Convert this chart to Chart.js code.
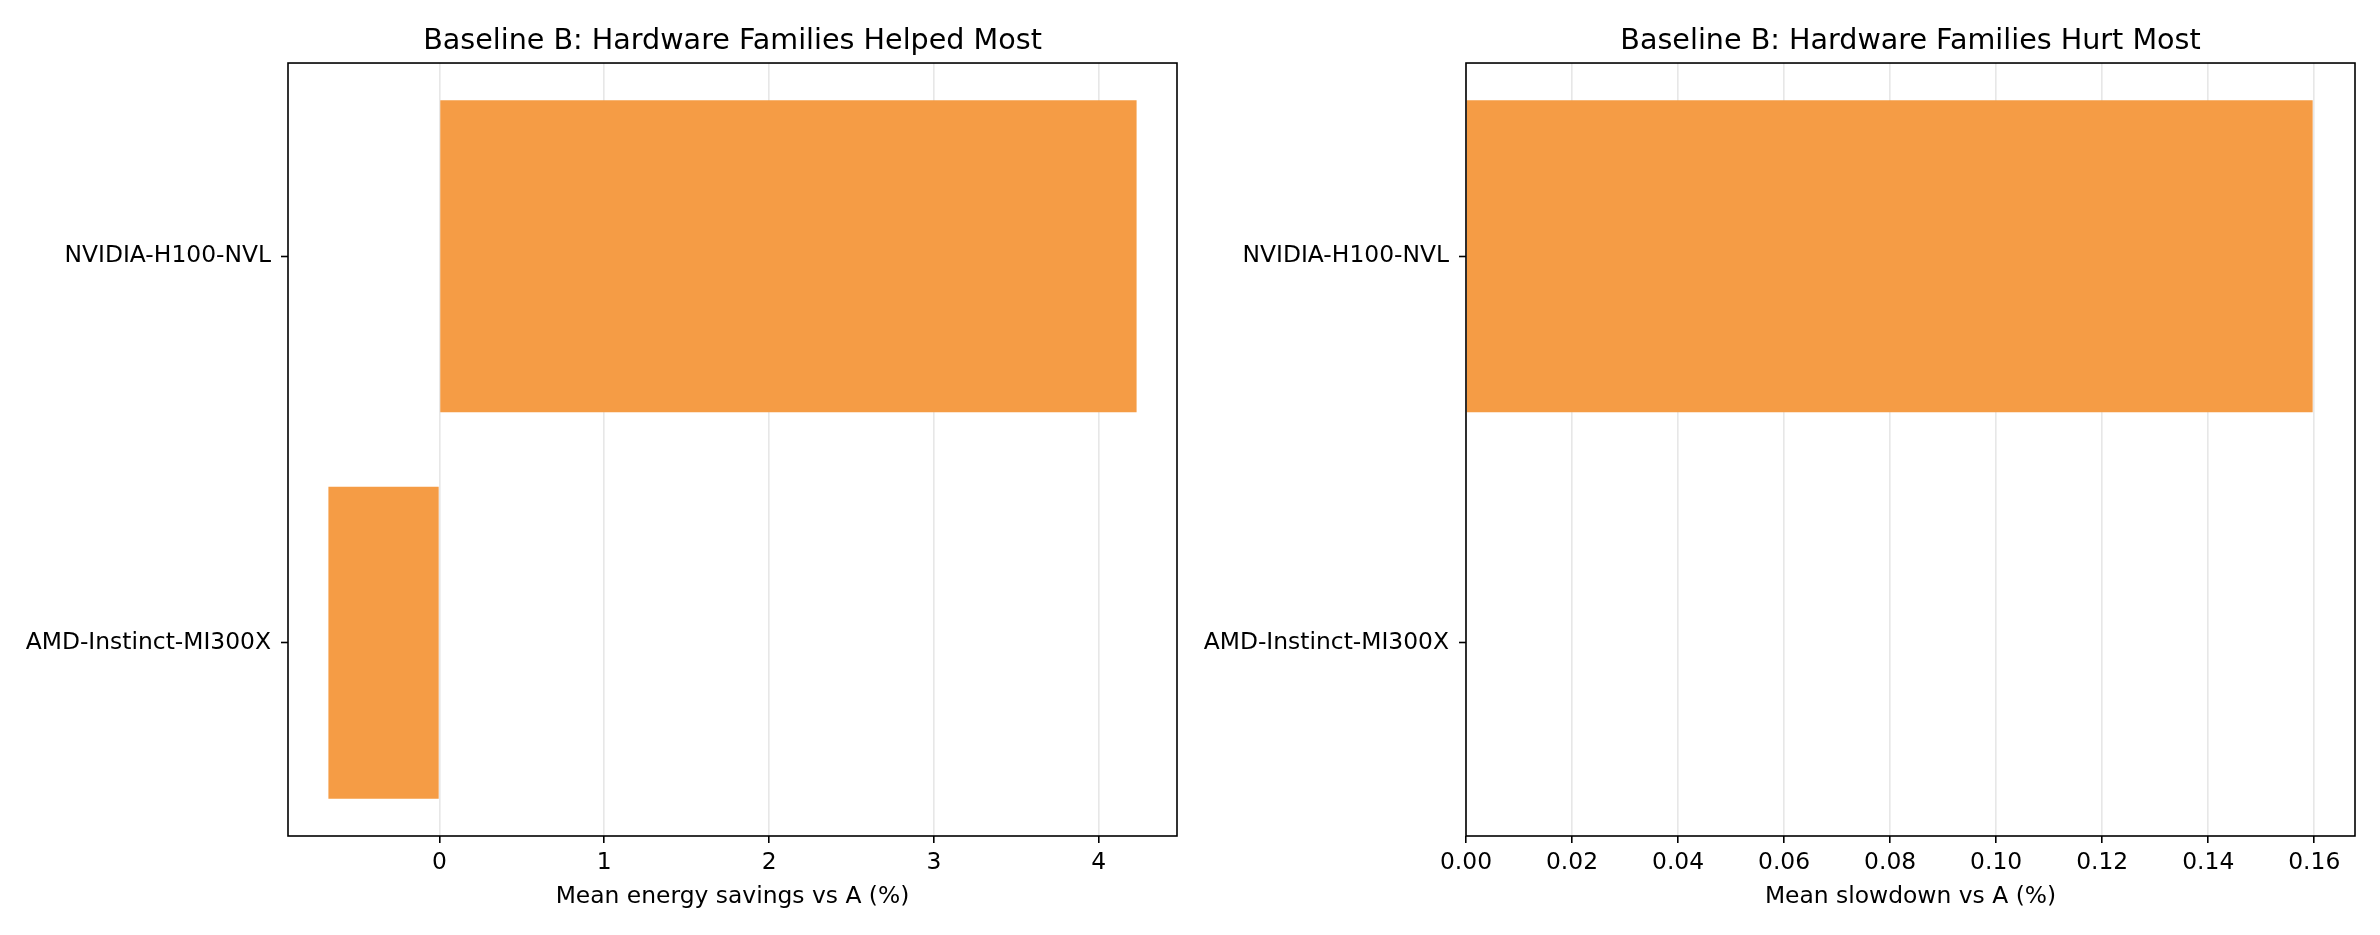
<!DOCTYPE html>
<html>
<head>
<meta charset="utf-8">
<script src="https://cdn.jsdelivr.net/npm/chart.js@4/dist/chart.umd.min.js"></script>
<style>
  html, body { margin: 0; padding: 0; background: #fff; }
  .panel { position: absolute; top: 0; width: 1190px; height: 935px; }
  #leftPanel { left: 0; }
  #rightPanel { left: 1190px; }
</style>
</head>
<body>
<div class="panel" id="leftPanel"><canvas id="helpedChart" width="1190" height="935"></canvas></div>
<div class="panel" id="rightPanel"><canvas id="hurtChart" width="1190" height="935"></canvas></div>
<script>
// data
const families = ["NVIDIA-H100-NVL", "AMD-Instinct-MI300X"];
const energySavings = [4.23, -0.674];
const slowdown = [0.1597, 0];
const savingsTicks = [0, 1, 2, 3, 4];
const slowdownTicks = [0, 0.02, 0.04, 0.06, 0.08, 0.10, 0.12, 0.14, 0.16];

const barColor = "#f59c45";
const tickFont = { family: "DejaVu Sans", size: 23.4 };

Chart.defaults.color = "#000";
Chart.defaults.font.family = "DejaVu Sans";

// matplotlib-like 5% margins, sticky at zero when data doesn't cross it
function axisLimits(values) {
  const lo = Math.min(0, ...values);
  const hi = Math.max(0, ...values);
  const pad = (hi - lo) * 0.05;
  return { min: lo < 0 ? lo - pad : 0, max: hi + pad };
}

// draw the full box around the plot area
const frameBox = {
  id: "frameBox",
  afterDraw(chart) {
    const { ctx, chartArea: a } = chart;
    ctx.save();
    ctx.strokeStyle = "#000";
    ctx.lineWidth = 1.6;
    ctx.strokeRect(a.left, a.top, a.right - a.left, a.bottom - a.top);
    ctx.restore();
  }
};

function makeChart(canvasId, title, xLabel, values, tickValues, fmt, yWidth, padRight) {
  const lim = axisLimits(values);
  return new Chart(document.getElementById(canvasId), {
    type: "bar",
    data: {
      labels: families,
      datasets: [{
        data: values,
        backgroundColor: barColor,
        borderWidth: 0,
        barPercentage: 0.8075,
        categoryPercentage: 1.0
      }]
    },
    options: {
      indexAxis: "y",
      responsive: false,
      animation: false,
      devicePixelRatio: 1,
      layout: { padding: { left: 0, right: padRight, top: 0, bottom: 0 } },
      plugins: {
        legend: { display: false },
        tooltip: { enabled: false },
        title: {
          display: true,
          fullSize: false,
          text: title,
          color: "#000",
          font: { family: "DejaVu Sans", size: 28.6, weight: "normal" },
          padding: { top: 24.9, bottom: 3.8 }
        }
      },
      scales: {
        x: {
          type: "linear",
          min: lim.min,
          max: lim.max,
          z: 1,
          afterBuildTicks: axis => { axis.ticks = tickValues.map(v => ({ value: v })); },
          afterFit: axis => { axis.height = 99; },
          ticks: {
            font: tickFont,
            color: "#000",
            padding: 6,
            maxRotation: 0,
            autoSkip: false,
            callback: v => fmt(v)
          },
          grid: {
            color: "rgba(176,176,176,0.3)",
            lineWidth: 1.6,
            tickColor: "#000",
            tickLength: 7,
            tickWidth: 1.6
          },
          border: { display: false },
          title: {
            display: true,
            text: xLabel,
            color: "#000",
            font: tickFont,
            padding: { top: 0, bottom: 24 }
          }
        },
        y: {
          afterFit: axis => { axis.width = yWidth; },
          ticks: { font: tickFont, color: "#000", padding: 10 },
          grid: {
            offset: false,
            drawOnChartArea: false,
            tickColor: "#000",
            tickLength: 7,
            tickWidth: 1.6
          },
          border: { display: false }
        }
      }
    },
    plugins: [frameBox]
  });
}

makeChart("helpedChart", "Baseline B: Hardware Families Helped Most",
  "Mean energy savings vs A (%)", energySavings, savingsTicks,
  v => String(Math.round(v)), 288, 13);

makeChart("hurtChart", "Baseline B: Hardware Families Hurt Most",
  "Mean slowdown vs A (%)", slowdown, slowdownTicks,
  v => v.toFixed(2), 276, 25);
</script>
</body>
</html>
